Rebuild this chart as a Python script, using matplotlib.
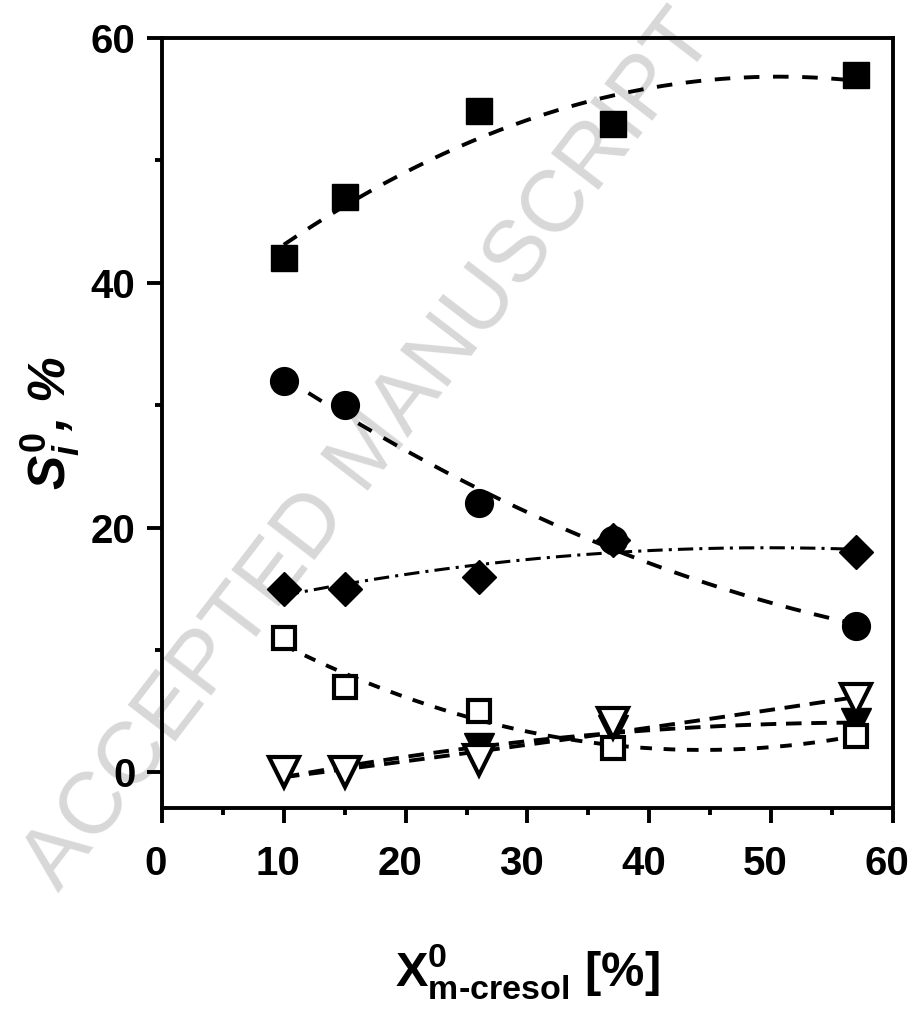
import numpy as np
import matplotlib.pyplot as plt
from matplotlib.ticker import MultipleLocator
from matplotlib.transforms import ScaledTranslation

plt.rcParams['font.family'] = ['Liberation Sans', 'DejaVu Sans']
plt.rcParams['mathtext.fontset'] = 'custom'
plt.rcParams['mathtext.rm'] = 'Liberation Sans:bold'
plt.rcParams['mathtext.it'] = 'Liberation Sans:bold:italic'
plt.rcParams['mathtext.bf'] = 'Liberation Sans:bold'

# data
x = [10, 15, 26, 37, 57]
s_sq_filled = [42, 47, 54, 53, 57]
s_circle = [32, 30, 22, 19, 12]
s_diamond = [15, 15, 16, 19, 18]
s_sq_open = [11, 7, 5, 2, 3]
s_tri_filled = [0, 0, 2, 3.5, 4]
s_tri_open = [0, 0, 1, 4, 6]

fig = plt.figure(figsize=(9.14, 10.14), dpi=100)
ax = fig.add_axes([0.1772, 0.2032, 0.7998, 0.7593])
ax.set_facecolor('none')

# watermark
fig.text(0.405, 0.555, 'ACCEPTED MANUSCRIPT', rotation=52.5, fontsize=63,
         color='#d8d8d8', ha='center', va='center', zorder=-10)

xf = np.linspace(10, 57, 200)

def fit(y, ls, lw=2.8):
    c = np.polyfit(x, y, 2)
    ax.plot(xf, np.polyval(c, xf), ls=ls, color='black', lw=lw, zorder=2)

fit(s_sq_filled, (0, (4, 3.5)))
fit(s_circle, (0, (4, 3.5)))
fit(s_diamond, (0, (5, 2, 1, 2)), lw=2.2)
fit(s_sq_open, (0, (3, 3)))
fit(s_tri_filled, (0, (4, 2.5)))
fit(s_tri_open, (0, (4, 2.5)))

ax.plot(x, s_sq_filled, 's', ms=19, color='black', zorder=3)
ax.plot(x, s_circle, 'o', ms=20, color='black', zorder=3)
ax.plot(x, s_diamond, 'D', ms=17, color='black', zorder=3)
ax.plot(x, s_sq_open, 's', ms=16, mfc='white', mec='black', mew=3, zorder=4)
ax.plot(x, s_tri_open, 'v', ms=21, mfc='white', mec='black', mew=3, zorder=4)
ax.plot(x, s_tri_filled, 'v', ms=21, color='black', zorder=3)

ax.set_xlim(0, 60)
ax.set_ylim(-2.9, 60)
ax.xaxis.set_major_locator(MultipleLocator(10))
ax.xaxis.set_minor_locator(MultipleLocator(5))
ax.yaxis.set_major_locator(MultipleLocator(20))
ax.yaxis.set_minor_locator(MultipleLocator(10))
ax.tick_params(which='major', direction='out', length=11, width=2.8,
               labelsize=29)
ax.tick_params(which='minor', direction='out', length=5, width=2.8)
ax.tick_params(axis='x', which='major', pad=16)
ax.tick_params(axis='y', which='major', pad=8)
ax.tick_params(top=False, right=False, which='both')
for sp in ax.spines.values():
    sp.set_linewidth(2.8)

ax.set_xlabel(r'X$^{\mathrm{0}}_{\text{m-cresol}}$ [%]', fontsize=35,
              fontweight='bold', labelpad=42)
ax.set_ylabel(r'$S^{\mathit{0}}_{i}$, %', fontsize=37, fontweight='bold',
              fontstyle='italic', labelpad=6)

# x tick labels sit a little left of their ticks in the original
shift = ScaledTranslation(-6 / 100, 0, fig.dpi_scale_trans)
for lab in ax.get_xticklabels():
    lab.set_transform(lab.get_transform() + shift)
for lab in ax.get_xticklabels() + ax.get_yticklabels():
    lab.set_fontweight('bold')

fig.savefig('out.png', dpi=100)
